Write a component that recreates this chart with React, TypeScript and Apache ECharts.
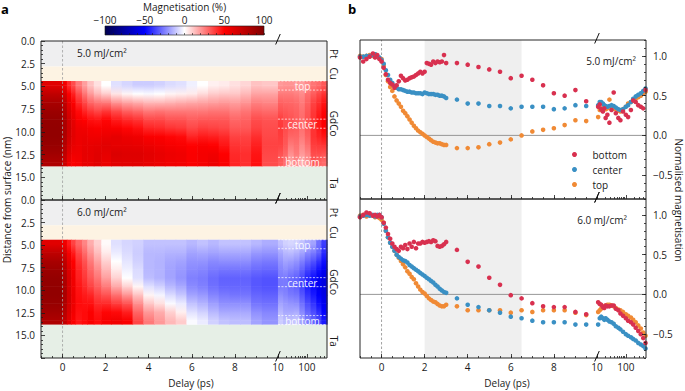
import React, { useEffect, useRef } from 'react';
import * as echarts from 'echarts';

// ---------------- data ----------------
const fluences = ['5.0 mJ/cm²', '6.0 mJ/cm²'];
const seriesNames = ['bottom', 'center', 'top'];

// delays (ps) shared by all line-out series
const delays = [
  -1.0, -0.85, -0.7, -0.55, -0.4, -0.3, -0.2, -0.1, 0.0,
  0.1, 0.2, 0.3, 0.4, 0.5, 0.6, 0.7, 0.8, 0.9, 1.0,
  1.1, 1.2, 1.3, 1.4, 1.5, 1.6, 1.7, 1.8, 1.9, 2.0,
  2.1, 2.2, 2.3, 2.4, 2.5, 2.6, 2.7, 2.8, 2.9, 3.0,
  3.5, 4, 4.5, 5, 5.5, 6, 6.5, 7, 7.5, 8, 8.5, 9, 9.5,
  11, 12.5, 14, 16, 18, 20, 23, 27, 32, 38, 45, 55, 65, 80, 100, 120, 150, 180, 220, 270, 330, 400, 480,
];

const bottom5 = [
  0.98, 0.93, 0.96, 0.99, 1.03, 0.98, 1.01, 0.96, 0.93,
  0.85, 0.77, 0.70, 0.66, 0.64, 0.60, 0.63, 0.68, 0.75, 0.72,
  0.69, 0.70, 0.72, 0.73, 0.74, 0.76, 0.78, 0.80, 0.78, 0.80,
  0.91, 0.90, 0.89, 0.93, 0.91, 0.93, 0.92, 0.93, 1.01, 0.91,
  0.91, 0.89, 0.86, 0.83, 0.80, 0.72, 0.75, 0.70, 0.63, 0.53, 0.50, 0.57, 0.43,
  0.36, 0.39, 0.33, 0.30, 0.34, 0.22, 0.26, 0.16, 0.32, 0.54, 0.28, 0.22, 0.19, 0.30, 0.26, 0.23, 0.32, 0.44, 0.42, 0.38, 0.36, 0.34, 0.57,
];
const center5 = [
  0.99, 0.99, 1.00, 1.00, 1.01, 1.02, 1.00, 0.98, 0.95,
  0.90, 0.82, 0.76, 0.70, 0.66, 0.62, 0.60, 0.58, 0.58, 0.57,
  0.56, 0.55, 0.55, 0.54, 0.54, 0.53, 0.53, 0.53, 0.52, 0.54,
  0.53, 0.52, 0.52, 0.52, 0.51, 0.51, 0.50, 0.50, 0.49, 0.47,
  0.45, 0.40, 0.40, 0.37, 0.37, 0.34, 0.36, 0.36, 0.36, 0.33, 0.34, 0.38, 0.37,
  0.38, 0.42, 0.42, 0.40, 0.38, 0.37, 0.36, 0.37, 0.38, 0.37, 0.35, 0.33, 0.32, 0.33, 0.36, 0.38, 0.42, 0.46, 0.49, 0.51, 0.53, 0.56, 0.59,
];
const top5 = [
  1.00, 0.99, 1.00, 1.01, 1.00, 1.02, 0.99, 0.97, 0.96,
  0.88, 0.76, 0.68, 0.61, 0.56, 0.49, 0.44, 0.40, 0.36, 0.31,
  0.28, 0.24, 0.20, 0.16, 0.12, 0.09, 0.06, 0.04, 0.02, 0.00,
  -0.02, -0.04, -0.06, -0.08, -0.09, -0.10, -0.10, -0.11, -0.12, -0.12,
  -0.16, -0.16, -0.15, -0.11, -0.09, -0.05, 0.00, 0.05, 0.07, 0.09, 0.13, 0.19, 0.18,
  0.23, 0.32, 0.34, 0.33, 0.35, 0.33, 0.34, 0.45, 0.33, 0.34, 0.33, 0.31, 0.30, 0.33, 0.36, 0.40, 0.42, 0.44, 0.46, 0.48, 0.50, 0.53, 0.55,
];
const bottom6 = [
  0.97, 1.00, 1.03, 1.02, 0.99, 1.00, 0.98, 1.00, 0.97,
  0.90, 0.84, 0.76, 0.70, 0.64, 0.60, 0.57, 0.55, 0.60, 0.58,
  0.62, 0.57, 0.64, 0.60, 0.66, 0.58, 0.64, 0.64, 0.66, 0.65,
  0.66, 0.67, 0.66, 0.68, 0.67, 0.61, 0.60, 0.61, 0.63, 0.66,
  0.56, 0.41, 0.35, 0.21, 0.12, -0.01, -0.05, -0.11, -0.15, -0.16, -0.16, -0.22, -0.25,
  -0.10, -0.12, -0.13, -0.16, -0.17, -0.14, -0.15, -0.15, -0.14, -0.14, -0.18, -0.20, -0.24, -0.27, -0.30, -0.33, -0.35, -0.38, -0.42, -0.46, -0.50, -0.55, -0.61,
];
const center6 = [
  0.98, 0.99, 1.00, 0.99, 1.00, 0.98, 1.00, 1.00, 0.97,
  0.89, 0.80, 0.72, 0.65, 0.60, 0.55, 0.50, 0.47, 0.45, 0.43,
  0.42, 0.40, 0.37, 0.35, 0.33, 0.31, 0.29, 0.27, 0.25, 0.23,
  0.21, 0.19, 0.17, 0.15, 0.12, 0.10, 0.07, 0.05, 0.03, 0.02,
  -0.05, -0.13, -0.16, -0.20, -0.23, -0.28, -0.30, -0.33, -0.35, -0.35, -0.35, -0.38, -0.38,
  -0.38, -0.30, -0.28, -0.30, -0.32, -0.30, -0.32, -0.34, -0.35, -0.37, -0.40, -0.42, -0.44, -0.47, -0.50, -0.52, -0.54, -0.56, -0.58, -0.61, -0.63, -0.65, -0.68,
];
const top6 = [
  0.99, 1.00, 0.98, 1.00, 0.99, 0.97, 0.98, 0.96, 0.94,
  0.90, 0.80, 0.72, 0.65, 0.60, 0.55, 0.50, 0.46, 0.42, 0.38,
  0.34, 0.29, 0.26, 0.22, 0.19, 0.14, 0.10, 0.06, 0.03, 0.01,
  -0.02, -0.05, -0.07, -0.09, -0.10, -0.12, -0.14, -0.15, -0.15, -0.13,
  -0.15, -0.20, -0.20, -0.20, -0.20, -0.23, -0.20, -0.22, -0.20, -0.20, -0.20, -0.23, -0.26,
  -0.22, -0.20, -0.18, -0.16, -0.15, -0.14, -0.13, -0.13, -0.14, -0.15, -0.17, -0.19, -0.20, -0.22, -0.25, -0.27, -0.29, -0.32, -0.35, -0.39, -0.43, -0.48, -0.52,
];
const lineouts = [
  { bottom: bottom5, center: center5, top: top5 },
  { bottom: bottom6, center: center6, top: top6 },
];

// heatmap bins: delay bin starts (ps) and depth bin starts (nm) inside GdCo
const hmStarts = [-1, 0, 0.2, 0.4, 0.6, 0.9, 1.15, 1.45, 1.8, 2.25, 2.75, 3.25, 3.75, 4.25, 4.75, 5.25, 5.75, 6.25, 6.75, 7.25, 7.75, 8.25, 8.75, 9.25, 10, 15, 22, 35, 55, 85, 135, 210, 320];
const hmDepthStarts = [4.4, 5.34, 6.28, 7.22, 8.16, 9.1, 10.04, 10.98, 11.92, 12.86];

const hm5 = [
  [62, 55, 42, 35, 26, 19, 12, 6, 0, -6, -8, -10, -10, -9, -7, -6, -3, 0, 3, 4, 6, 8, 12, 11, 20, 21, 21, 20, 19, 23, 27, 29, 33],
  [75, 66, 52, 44, 35, 27, 20, 14, 10, 5, 2, 0, -1, 0, 2, 3, 4, 7, 10, 11, 11, 14, 18, 18, 26, 26, 26, 25, 23, 28, 32, 36, 40],
  [84, 75, 60, 51, 42, 36, 30, 27, 26, 21, 18, 16, 14, 14, 15, 16, 17, 18, 19, 20, 19, 21, 25, 24, 31, 30, 30, 29, 26, 31, 37, 41, 46],
  [89, 79, 65, 56, 48, 43, 39, 36, 39, 35, 31, 29, 26, 27, 26, 26, 26, 26, 27, 27, 25, 27, 30, 29, 34, 33, 32, 31, 28, 33, 39, 44, 49],
  [92, 83, 69, 60, 52, 50, 47, 46, 49, 45, 42, 40, 36, 36, 34, 34, 32, 33, 33, 33, 30, 31, 35, 34, 38, 35, 34, 32, 29, 34, 40, 46, 51],
  [93, 83, 70, 61, 56, 55, 53, 52, 53, 52, 49, 47, 43, 42, 40, 39, 36, 38, 37, 36, 33, 33, 37, 35, 39, 35, 33, 32, 28, 33, 40, 45, 50],
  [93, 82, 69, 61, 57, 58, 56, 56, 58, 60, 57, 56, 52, 51, 49, 48, 43, 45, 44, 42, 37, 37, 41, 36, 38, 34, 30, 30, 26, 31, 40, 43, 46],
  [91, 79, 66, 59, 57, 59, 59, 60, 62, 60, 60, 59, 57, 55, 53, 52, 50, 52, 50, 46, 40, 39, 44, 37, 37, 33, 26, 28, 23, 28, 38, 39, 40],
  [87, 75, 62, 56, 56, 60, 60, 62, 60, 64, 63, 63, 61, 59, 57, 56, 52, 54, 55, 50, 42, 41, 46, 36, 34, 30, 22, 26, 20, 24, 35, 35, 34],
  [82, 70, 57, 52, 54, 59, 59, 62, 58, 62, 62, 62, 60, 58, 56, 55, 52, 54, 57, 52, 43, 41, 47, 35, 32, 28, 18, 23, 16, 21, 33, 31, 29],
];
const hm6 = [
  [62, 56, 45, 37, 30, 24, 16, 9, 1, -6, -8, -9, -12, -12, -12, -12, -14, -12, -14, -12, -12, -12, -14, -16, -12, -9, -8, -9, -12, -16, -18, -28, -38],
  [75, 67, 54, 45, 36, 29, 21, 13, 4, -4, -7, -10, -14, -14, -15, -15, -18, -17, -18, -17, -17, -17, -20, -21, -17, -14, -13, -15, -18, -23, -26, -31, -42],
  [84, 75, 60, 50, 40, 34, 26, 18, 9, 0, -5, -9, -14, -15, -17, -18, -21, -21, -23, -22, -22, -22, -25, -26, -21, -18, -19, -21, -25, -30, -34, -40, -47],
  [89, 79, 64, 53, 43, 37, 30, 23, 14, 4, -3, -7, -14, -15, -18, -20, -23, -24, -26, -27, -27, -27, -29, -30, -24, -22, -24, -26, -31, -37, -41, -47, -53],
  [92, 82, 66, 55, 44, 39, 33, 27, 19, 9, 0, -6, -13, -15, -18, -21, -25, -26, -29, -31, -31, -31, -33, -34, -26, -26, -29, -31, -36, -43, -47, -53, -58],
  [93, 83, 67, 56, 46, 42, 37, 32, 26, 17, 9, 2, -6, -9, -14, -17, -23, -25, -28, -30, -30, -30, -33, -34, -26, -26, -29, -31, -37, -44, -48, -54, -59],
  [93, 83, 68, 57, 47, 45, 43, 37, 34, 28, 21, 12, 2, -2, -7, -11, -18, -20, -24, -26, -27, -27, -30, -31, -22, -24, -26, -27, -33, -40, -45, -51, -57],
  [91, 82, 68, 57, 48, 47, 47, 42, 42, 38, 34, 22, 11, 6, -1, -4, -12, -15, -19, -22, -22, -22, -27, -28, -18, -20, -21, -22, -28, -35, -40, -47, -54],
  [87, 78, 65, 55, 47, 48, 51, 46, 49, 48, 44, 30, 20, 16, 9, 3, -6, -9, -14, -17, -17, -17, -22, -24, -14, -17, -17, -16, -23, -30, -35, -41, -50],
  [82, 74, 62, 52, 46, 48, 52, 48, 53, 55, 52, 36, 26, 20, 14, 10, -1, -4, -9, -12, -13, -13, -18, -21, -10, -13, -12, -11, -18, -25, -30, -36, -45],
];
const heatmaps = [hm5, hm6];

// sample layers (nm from surface)
const layerNames = ['Pt', 'Cu', 'GdCo', 'Ta'];
const layerTops = [0, 2.8, 4.4, 13.8];
const regionNames = ['top', 'center', 'bottom'];
const regionBounds = [[4.4, 5.4], [8.6, 9.6], [12.8, 13.8]];
const shadedDelays = [2, 6.5];

// tick labels
const depthTicks = [0, 2.5, 5, 7.5, 10, 12.5, 15];
const magTicks = [-0.5, 0, 0.5, 1.0];
const delayTickLabels = [0, 2, 4, 6, 8, 10, 100];
const colorbarTicks = [-100, -50, 0, 50, 100];

// ---------------- styles / scales ----------------
const FONT = '"Open Sans", "Noto Sans", sans-serif';
const INK = '#1a1a1a';
const SEISMIC = ['#00004d', '#0000ff', '#ffffff', '#ff0000', '#800000'];
const LAYER_COLORS: Record<string, string> = { Pt: '#efeff0', Cu: '#fdf3e3', GdCo: '#ffffff', Ta: '#e6efe6' };
const SERIES_COLORS: Record<string, string> = { bottom: '#d8304f', center: '#3a90c4', top: '#f08a35' };

const BREAK = 10;
const LOGK = 1.34;
const T_MIN = -1;
const T_MAX = 500;
const u = (t: number) => (t <= BREAK ? t : BREAK + LOGK * Math.log10(t / BREAK));
const U_MIN = u(T_MIN);
const U_MAX = u(T_MAX);
const DEPTH_MAX = 17.5;
const MAG_MIN = -0.8;
const MAG_MAX = 1.2;

const GA = [
  { left: 41, top: 41, width: 286, height: 159 },
  { left: 41, top: 200, width: 286, height: 158 },
];
const GB = [
  { left: 360, top: 40, width: 286, height: 159 },
  { left: 360, top: 199, width: 286, height: 159 },
];
const GC = { left: 105, top: 26, width: 159, height: 9 };

const minus = (s: string) => s.replace('-', '\u2212');
const delayTickPos = delayTickLabels.map(u);
const minorDelayTicks: number[] = [];
for (let i = -2; i <= 20; i++) minorDelayTicks.push(u(i * 0.5));
[20, 30, 40, 50, 60, 70, 80, 90, 200, 300, 400].forEach((t) => minorDelayTicks.push(u(t)));
const minorMagTicks: number[] = [];
for (let i = -8; i <= 12; i++) minorMagTicks.push(i / 10);
const minorCbTicks: number[] = [];
for (let i = -10; i <= 10; i++) minorCbTicks.push(i * 10);

const delayLabel = (v: number) => {
  const i = delayTickPos.findIndex((p) => Math.abs(p - v) < 1e-6);
  return i >= 0 ? String(delayTickLabels[i]) : '';
};

const tickStyle = { color: INK, width: 0.8 };
const labelStyle = { fontSize: 10, fontFamily: FONT, color: INK };

function buildOption() {
  const grid: any[] = [...GA, ...GB, GC];
  const xAxis: any[] = [];
  const yAxis: any[] = [];
  const series: any[] = [];
  const heatIdx: number[] = [];

  const xMaj: number[] = [];
  [0, 1, 2, 3].forEach((g) => {
    xMaj[g] = xAxis.length;
    xAxis.push({
      type: 'value', gridIndex: g, min: U_MIN, max: U_MAX, position: 'bottom', z: 10,
      axisLine: { show: false, onZero: false }, splitLine: { show: false },
      axisTick: { show: true, inside: true, length: 4, customValues: delayTickPos, lineStyle: tickStyle },
      axisLabel: { show: g === 1 || g === 3, customValues: delayTickPos, formatter: delayLabel, margin: 4, ...labelStyle },
    });
    xAxis.push({
      type: 'value', gridIndex: g, min: U_MIN, max: U_MAX, position: 'bottom', z: 10,
      axisLine: { show: false, onZero: false }, splitLine: { show: false }, axisLabel: { show: false },
      axisTick: { show: true, inside: true, length: 2, customValues: minorDelayTicks, lineStyle: tickStyle },
    });
  });
  const xCb = xAxis.length;
  xAxis.push({
    type: 'value', gridIndex: 4, min: -100, max: 100, position: 'top', z: 10,
    axisLine: { show: false, onZero: false }, splitLine: { show: false },
    axisTick: { show: false },
    axisLabel: { customValues: colorbarTicks, formatter: (v: number) => minus(String(v)), margin: 1, lineHeight: 11, ...labelStyle },
  });
  xAxis.push({
    type: 'value', gridIndex: 4, min: -100, max: 100, position: 'bottom', z: 10,
    axisLine: { show: false, onZero: false }, splitLine: { show: false }, axisLabel: { show: false },
    axisTick: { show: true, inside: true, length: 2, customValues: minorCbTicks, lineStyle: { color: INK, width: 0.6 } },
  });

  const yA: number[] = [];
  [0, 1].forEach((g) => {
    yA[g] = yAxis.length;
    yAxis.push({
      type: 'value', gridIndex: g, inverse: true, min: 0, max: DEPTH_MAX, interval: 2.5, position: 'left', z: 10,
      axisLine: { show: false, onZero: false }, splitLine: { show: false },
      axisTick: { show: true, inside: true, length: 4, lineStyle: tickStyle },
      minorTick: { show: true, splitNumber: 5, length: 2, lineStyle: tickStyle },
      axisLabel: { formatter: (v: number) => (depthTicks.some((d) => Math.abs(d - v) < 1e-6) ? v.toFixed(1) : ''), margin: 6, ...labelStyle },
    });
  });
  const yB: number[] = [];
  [2, 3].forEach((g) => {
    yB[g] = yAxis.length;
    yAxis.push({
      type: 'value', gridIndex: g, min: MAG_MIN, max: MAG_MAX, position: 'right', z: 10,
      axisLine: { show: false, onZero: false }, splitLine: { show: false },
      axisTick: { show: true, inside: true, length: 4, customValues: magTicks, lineStyle: tickStyle },
      axisLabel: { customValues: magTicks, formatter: (v: number) => minus(v.toFixed(1)), margin: 7, ...labelStyle },
    });
    yAxis.push({
      type: 'value', gridIndex: g, min: MAG_MIN, max: MAG_MAX, position: 'right', z: 10,
      axisLine: { show: false, onZero: false }, splitLine: { show: false }, axisLabel: { show: false },
      axisTick: { show: true, inside: true, length: 2, customValues: minorMagTicks, lineStyle: tickStyle },
    });
  });
  const yCb = yAxis.length;
  yAxis.push({ type: 'value', gridIndex: 4, min: 0, max: 1, show: false });

  // ---- panel a ----
  [0, 1].forEach((f) => {
    const g = f;
    const layerData = layerNames
      .map((n, i) => [layerTops[i], i + 1 < layerTops.length ? layerTops[i + 1] : DEPTH_MAX, i])
      .filter((d) => layerNames[d[2]] !== 'GdCo');
    series.push({
      type: 'custom', xAxisIndex: xMaj[g], yAxisIndex: yA[g], z: 1, silent: true,
      data: layerData,
      renderItem: (p: any, api: any) => {
        const a = api.coord([U_MIN, api.value(0)]);
        const b = api.coord([U_MAX, api.value(1)]);
        return { type: 'rect', shape: { x: a[0], y: a[1], width: b[0] - a[0], height: b[1] - a[1] }, style: { fill: LAYER_COLORS[layerNames[api.value(2)]] } };
      },
    });
    const cells: number[][] = [];
    const nCol = hmStarts.length;
    const nRow = hmDepthStarts.length;
    const gdcoBottom = layerTops[3];
    heatmaps[f].forEach((row, r) => {
      row.forEach((v, c) => {
        const t0 = hmStarts[c];
        const t1 = c + 1 < nCol ? hmStarts[c + 1] : T_MAX;
        const d0 = hmDepthStarts[r];
        const d1 = r + 1 < nRow ? hmDepthStarts[r + 1] : gdcoBottom;
        cells.push([u(t0), u(t1), d0, d1, v, r]);
      });
    });
    heatIdx.push(series.length);
    series.push({
      type: 'custom', xAxisIndex: xMaj[g], yAxisIndex: yA[g], z: 2, silent: true,
      dimensions: ['u0', 'u1', 'd0', 'd1', 'm', 'row'],
      encode: { x: [0, 1], y: [2, 3] },
      data: cells,
      renderItem: (p: any, api: any) => {
        const idx = p.dataIndexInside;
        const r = api.value(5);
        const x0 = api.coord([api.value(0), 0])[0];
        const x1 = api.coord([api.value(1), 0])[0];
        const yTop = api.coord([0, api.value(2)])[1];
        const yBot = api.coord([0, api.value(3)])[1];
        const yMid = (yTop + yBot) / 2;
        const col = api.visual('color');
        const w = x1 - x0 + 0.6;
        const children: any[] = [];
        if (r === 0) children.push({ type: 'rect', shape: { x: x0, y: yTop, width: w, height: yMid - yTop + 0.5 }, style: { fill: col } });
        if (r === nRow - 1) {
          children.push({ type: 'rect', shape: { x: x0, y: yMid, width: w, height: yBot - yMid }, style: { fill: col } });
        } else {
          const nIdx = idx + nCol;
          const nTop = api.coord([0, api.value(2, nIdx)])[1];
          const nBot = api.coord([0, api.value(3, nIdx)])[1];
          const nMid = (nTop + nBot) / 2;
          const nCol2 = api.visual('color', nIdx);
          children.push({
            type: 'rect', shape: { x: x0, y: yMid, width: w, height: nMid - yMid + 0.5 },
            style: { fill: new echarts.graphic.LinearGradient(0, 0, 0, 1, [{ offset: 0, color: col }, { offset: 1, color: nCol2 }]) },
          });
        }
        return { type: 'group', children };
      },
    });
    series.push({
      type: 'line', xAxisIndex: xMaj[g], yAxisIndex: yA[g], z: 5, silent: true, symbol: 'none',
      data: [[0, 0], [0, DEPTH_MAX]],
      lineStyle: { color: '#a0a0a0', width: 0.8, type: [2.5, 2] },
    });
    series.push({
      type: 'custom', xAxisIndex: xMaj[g], yAxisIndex: yA[g], z: 6, silent: true,
      data: regionBounds.map((b, i) => [b[0], b[1], i]),
      renderItem: (p: any, api: any) => {
        const a = api.coord([u(BREAK), api.value(0)]);
        const b = api.coord([U_MAX, api.value(1)]);
        const ls = { stroke: '#ffffff', lineWidth: 0.8, lineDash: [2, 1.5], opacity: 0.9 };
        return {
          type: 'group',
          children: [
            { type: 'line', shape: { x1: a[0], y1: a[1], x2: b[0], y2: a[1] }, style: ls },
            { type: 'line', shape: { x1: a[0], y1: b[1], x2: b[0], y2: b[1] }, style: ls },
            {
              type: 'text', x: (a[0] + b[0]) / 2, y: (a[1] + b[1]) / 2 + 0.5,
              style: { text: regionNames[api.value(2)], fill: '#ffffff', opacity: 0.92, fontSize: 10, fontFamily: FONT, align: 'center', verticalAlign: 'middle' },
            },
          ],
        };
      },
    });
  });

  // ---- panel b ----
  [0, 1].forEach((f) => {
    const g = 2 + f;
    series.push({
      type: 'custom', xAxisIndex: xMaj[g], yAxisIndex: yB[g], z: 1, silent: true,
      data: [shadedDelays],
      renderItem: (p: any, api: any) => {
        const a = api.coord([u(api.value(0)), MAG_MAX]);
        const b = api.coord([u(api.value(1)), MAG_MIN]);
        return { type: 'rect', shape: { x: a[0], y: a[1], width: b[0] - a[0], height: b[1] - a[1] }, style: { fill: '#efefef' } };
      },
    });
    series.push({
      type: 'line', xAxisIndex: xMaj[g], yAxisIndex: yB[g], z: 2, silent: true, symbol: 'none',
      data: [[U_MIN, 0], [U_MAX, 0]], lineStyle: { color: '#8c8c8c', width: 0.9 },
    });
    series.push({
      type: 'line', xAxisIndex: xMaj[g], yAxisIndex: yB[g], z: 2, silent: true, symbol: 'none',
      data: [[0, MAG_MIN], [0, MAG_MAX]], lineStyle: { color: '#8c8c8c', width: 0.8, type: [2.5, 2] },
    });
    ['top', 'center', 'bottom'].forEach((name) => {
      const vals = (lineouts[f] as any)[name] as number[];
      series.push({
        type: 'scatter', name, xAxisIndex: xMaj[g], yAxisIndex: yB[g], z: 4, silent: true,
        symbol: 'circle', symbolSize: 4.6,
        itemStyle: { color: SERIES_COLORS[name], opacity: 1 },
        data: delays.map((t, i) => [u(t), vals[i]]),
      });
    });
  });

  // ---- colorbar ----
  series.push({
    type: 'custom', xAxisIndex: xCb, yAxisIndex: yCb, z: 2, silent: true,
    data: [[-100, 100]],
    renderItem: (p: any, api: any) => {
      const a = api.coord([api.value(0), 1]);
      const b = api.coord([api.value(1), 0]);
      return {
        type: 'rect',
        shape: { x: a[0], y: a[1], width: b[0] - a[0], height: b[1] - a[1] },
        style: {
          fill: new echarts.graphic.LinearGradient(0, 0, 1, 0, SEISMIC.map((c, i) => ({ offset: i / (SEISMIC.length - 1), color: c }))),
          stroke: INK, lineWidth: 0.6,
        },
      };
    },
  });

  return {
    animation: false,
    backgroundColor: '#ffffff',
    textStyle: { fontFamily: FONT },
    grid,
    xAxis,
    yAxis,
    visualMap: {
      type: 'continuous', show: false, min: -100, max: 100, dimension: 4, seriesIndex: heatIdx,
      inRange: { color: SEISMIC },
    },
    legend: {
      data: seriesNames, orient: 'vertical', left: 572, top: 147, padding: 0, icon: 'circle',
      itemWidth: 26, itemHeight: 5, itemGap: 0, selectedMode: false,
      textStyle: { fontSize: 10, fontFamily: FONT, color: INK, lineHeight: 15 },
    },
    series,
  };
}

function buildGraphics(chart: any) {
  const px = (g: number, x: number, y: number) => chart.convertToPixel({ gridIndex: g }, [x, y]) as number[];
  const els: any[] = [];
  const txt = (text: string, x: number, y: number, extra: any = {}, rot = 0) =>
    els.push({
      type: 'text', x, y, rotation: rot, z: 100,
      style: { text, fill: INK, fontSize: 10, fontFamily: FONT, align: 'center', verticalAlign: 'middle', textAlign: 'center', textVerticalAlign: 'middle', ...extra },
    });

  // frames
  [...GA, ...GB].forEach((g) =>
    els.push({ type: 'rect', z: 90, shape: { x: g.left, y: g.top, width: g.width, height: g.height }, style: { fill: 'none', stroke: '#262626', lineWidth: 1 } })
  );

  // panel letters
  txt('a', 5, 9, { fontSize: 13, fontWeight: 'bold', fill: '#000' });
  txt('b', 352, 9, { fontSize: 13, fontWeight: 'bold', fill: '#000' });
  // colorbar title
  txt('Magnetisation (%)', GC.left + GC.width / 2, 6.5, { lineHeight: 11 });
  // axis titles
  txt('Distance from surface (nm)', 7, 200, {}, Math.PI / 2);
  txt('Normalised magnetisation', 679, 200, {}, -Math.PI / 2);
  txt('Delay (ps)', 191, 383);
  txt('Delay (ps)', 507, 383);

  // fluence labels
  [0, 1].forEach((f) => {
    txt(fluences[f], GA[f].left + 36, GA[f].top + 12, { align: 'left', textAlign: 'left' });
    txt(fluences[f], GB[f].left + GB[f].width - (f === 0 ? 10 : 19), GB[f].top + 21, { align: 'right', textAlign: 'right' });
  });

  // layer labels
  [0, 1].forEach((g) => {
    layerNames.forEach((n, i) => {
      const d0 = layerTops[i];
      const d1 = i + 1 < layerTops.length ? layerTops[i + 1] : DEPTH_MAX;
      const p = px(g, U_MAX, (d0 + d1) / 2);
      txt(n, p[0] + 7, p[1], {}, -Math.PI / 2);
    });
  });

  // axis break marks
  [0, 1, 2, 3].forEach((g) => {
    const G = g < 2 ? GA[g] : GB[g - 2];
    const x = px(g, u(BREAK), 0)[0];
    [G.top, G.top + G.height].forEach((y) => {
      els.push({ type: 'line', z: 95, shape: { x1: x - 2.3, y1: y + 3.5, x2: x + 2.3, y2: y - 7 }, style: { stroke: '#111', lineWidth: 1 } });
    });
  });

  return { elements: els };
}

export default function App() {
  const ref = useRef<HTMLDivElement>(null);
  useEffect(() => {
    const chart = echarts.init(ref.current!, null, { renderer: 'svg' });
    chart.setOption(buildOption() as any);
    chart.setOption({ graphic: buildGraphics(chart) } as any);
    return () => chart.dispose();
  }, []);
  return <div ref={ref} style={{ position: 'fixed', left: 0, top: 0, width: 685, height: 391, background: '#fff' }} />;
}
